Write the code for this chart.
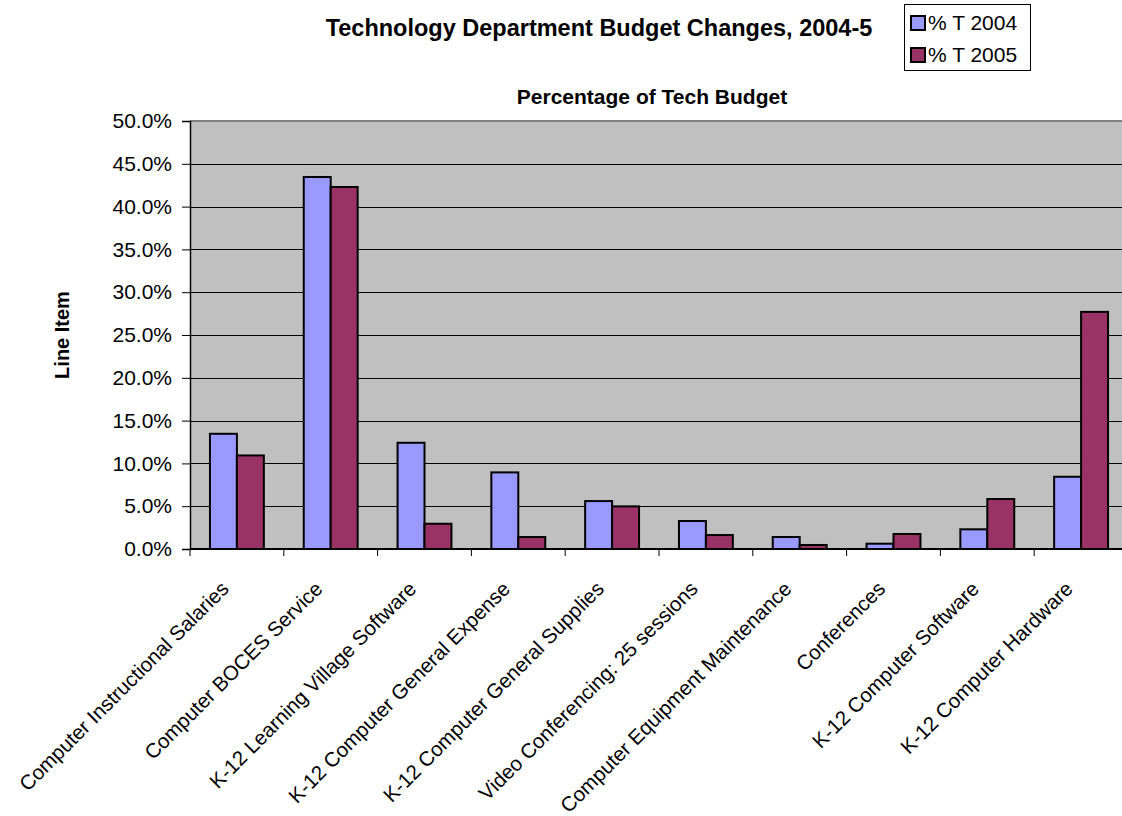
<!DOCTYPE html>
<html>
<head>
<meta charset="utf-8">
<script src="https://cdn.jsdelivr.net/npm/d3@7"></script>
<style>
  body { margin: 0; background: #fff; }
  svg { display: block; font-family: "Liberation Sans", Arial, sans-serif; }
</style>
</head>
<body>
<div id="chart"></div>
<script>
const categories = [
  "Computer Instructional Salaries",
  "Computer BOCES Service",
  "K-12 Learning Village Software",
  "K-12 Computer General Expense",
  "K-12 Computer General Supplies",
  "Video Conferencing: 25 sessions",
  "Computer Equipment Maintenance",
  "Conferences",
  "K-12 Computer Software",
  "K-12 Computer Hardware",
];
const seriesNames = ["% T 2004", "% T 2005"];
const values2004 = [13.46, 43.46, 12.41, 8.95, 5.6, 3.27, 1.4, 0.62, 2.3, 8.44];
const values2005 = [10.93, 42.29, 2.95, 1.4, 4.98, 1.63, 0.47, 1.75, 5.84, 27.7];
const yTicks = [0, 5, 10, 15, 20, 25, 30, 35, 40, 45, 50];
const colors = ["#9999ff", "#993366"];

const width = 1122;
const height = 816;
const margin = { top: 121, right: -6, bottom: 267, left: 190 };

const rows = categories.map((c, i) => ({
  key: c,
  vals: [values2004[i], values2005[i]],
}));

const svg = d3
  .select("#chart")
  .append("svg")
  .attr("width", width)
  .attr("height", height);

svg.append("rect").attr("width", width).attr("height", height).attr("fill", "#fff");

const x = d3
  .scaleBand()
  .domain(categories)
  .range([margin.left, width - margin.right])
  .padding(0);
const xs = d3
  .scaleBand()
  .domain(seriesNames)
  .range([0, x.bandwidth()])
  .paddingInner(0)
  .paddingOuter(0.74);
const y = d3
  .scaleLinear()
  .domain([0, 50])
  .range([height - margin.bottom, margin.top]);

// plot background
svg
  .append("rect")
  .attr("x", x.range()[0])
  .attr("y", y(50))
  .attr("width", x.range()[1] - x.range()[0])
  .attr("height", y(0) - y(50))
  .attr("fill", "#c0c0c0");

// gridlines
svg
  .append("g")
  .selectAll("line")
  .data(yTicks.filter((d) => d > 0 && d < 50))
  .join("line")
  .attr("x1", x.range()[0])
  .attr("x2", x.range()[1])
  .attr("y1", (d) => Math.round(y(d)) + 0.5)
  .attr("y2", (d) => Math.round(y(d)) + 0.5)
  .attr("stroke", "#000")
  .attr("stroke-width", 1);

// top border
svg
  .append("line")
  .attr("x1", x.range()[0])
  .attr("x2", x.range()[1])
  .attr("y1", y(50))
  .attr("y2", y(50))
  .attr("stroke", "#808080")
  .attr("stroke-width", 2);

// bars
svg
  .append("g")
  .selectAll("g")
  .data(rows)
  .join("g")
  .attr("transform", (d) => `translate(${x(d.key)},0)`)
  .selectAll("rect")
  .data((d) => d.vals.map((v, i) => ({ name: seriesNames[i], v, i })))
  .join("rect")
  .attr("x", (d) => xs(d.name))
  .attr("y", (d) => y(d.v))
  .attr("width", xs.bandwidth())
  .attr("height", (d) => y(0) - y(d.v))
  .attr("fill", (d) => colors[d.i])
  .attr("stroke", "#000")
  .attr("stroke-width", 2);

// y axis
const gY = svg
  .append("g")
  .attr("transform", `translate(${margin.left},0)`)
  .call(
    d3
      .axisLeft(y)
      .tickValues(yTicks)
      .tickSize(8)
      .tickPadding(10)
      .tickFormat((d) => d.toFixed(1) + "%")
  );
gY.select(".domain").attr("stroke", "#000").attr("stroke-width", 1.5);
gY.selectAll(".tick line").attr("stroke", "#000");
gY.selectAll(".tick text")
  .attr("font-size", 21)
  .attr("font-family", "Liberation Sans, Arial, sans-serif")
  .attr("fill", "#000");

// x axis line and ticks between categories
const gX = svg.append("g");
gX.append("line")
  .attr("x1", x.range()[0])
  .attr("x2", x.range()[1])
  .attr("y1", y(0))
  .attr("y2", y(0))
  .attr("stroke", "#000")
  .attr("stroke-width", 2);
gX.selectAll(".xtick")
  .data(categories)
  .join("line")
  .attr("class", "xtick")
  .attr("x1", (d) => x(d))
  .attr("x2", (d) => x(d))
  .attr("y1", y(0))
  .attr("y2", y(0) + 7)
  .attr("stroke", "#000");
gX.selectAll(".xlabel")
  .data(categories)
  .join("text")
  .attr("class", "xlabel")
  .attr(
    "transform",
    (d) => `translate(${x(d) + x.bandwidth() / 2 - 12},${y(0) + 36}) rotate(-45)`
  )
  .attr("text-anchor", "end")
  .attr("dy", "0.35em")
  .attr("font-size", 20.5)
  .text((d) => d);

// titles
svg
  .append("text")
  .attr("x", 599)
  .attr("y", 36)
  .attr("text-anchor", "middle")
  .attr("font-size", 23.5)
  .attr("font-weight", "bold")
  .text("Technology Department Budget Changes, 2004-5");

svg
  .append("text")
  .attr("x", 652)
  .attr("y", 104)
  .attr("text-anchor", "middle")
  .attr("font-size", 21)
  .attr("font-weight", "bold")
  .text("Percentage of Tech Budget");

svg
  .append("text")
  .attr("transform", `translate(69,${(y(0) + y(50)) / 2}) rotate(-90)`)
  .attr("text-anchor", "middle")
  .attr("font-size", 20)
  .attr("font-weight", "bold")
  .text("Line Item");

// legend
const legend = svg.append("g").attr("transform", "translate(904,4)");
legend
  .append("rect")
  .attr("x", 0.5)
  .attr("y", 0.5)
  .attr("width", 126)
  .attr("height", 66)
  .attr("fill", "#fff")
  .attr("stroke", "#000");
const li = legend
  .selectAll(".li")
  .data(seriesNames)
  .join("g")
  .attr("class", "li")
  .attr("transform", (d, i) => `translate(0,${19 + i * 32})`);
li.append("rect")
  .attr("x", 7)
  .attr("y", -7)
  .attr("width", 14)
  .attr("height", 14)
  .attr("fill", (d, i) => colors[i])
  .attr("stroke", "#000")
  .attr("stroke-width", 2);
li.append("text")
  .attr("x", 24)
  .attr("dy", "0.35em")
  .attr("font-size", 21)
  .text((d) => d);
</script>
</body>
</html>
